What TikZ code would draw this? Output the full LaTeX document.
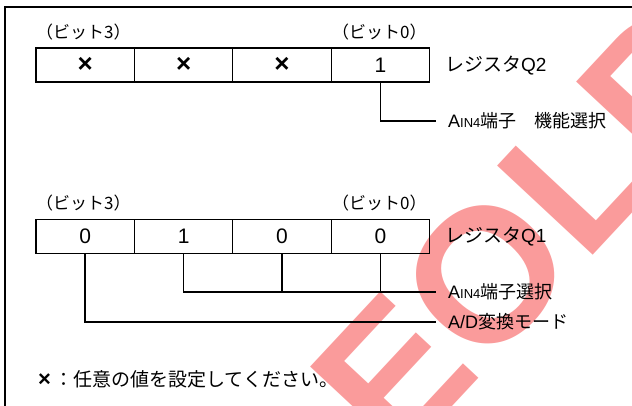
\documentclass[tikz,border=0pt]{standalone}
\usepackage{fontspec}
\setmainfont{Liberation Sans}
\newfontfamily\jp{Noto Sans CJK JP}[BoldFont=Noto Sans CJK JP Bold]
\definecolor{wmpink}{RGB}{250,155,155}
\begin{document}
\begin{tikzpicture}[x=1pt,y=-1pt,
  cell/.style={draw, line width=1.3pt, minimum width=98.4pt, minimum height=34pt, inner sep=0pt, font=\fontsize{21}{21}\selectfont},
  bitlab/.style={anchor=west, inner sep=0pt, font=\jp\fontsize{17}{17}\selectfont},
  reglab/.style={anchor=west, inner sep=0pt, font=\jp\fontsize{19}{19}\selectfont},
  funclab/.style={anchor=west, inner sep=0pt, font=\jp\fontsize{18}{18}\selectfont},
  conn/.style={line width=1.5pt},
  crossmark/.style={font=\bfseries\fontsize{26}{26}\selectfont}]
\useasboundingbox (0,0) rectangle (632,406);
% watermark (behind)
\node[rotate=47, text=wmpink, font=\bfseries\fontsize{190}{190}\selectfont] (wm) at (526,232) {EOLP};
% frame
\draw[line width=2pt] (5,406) -- (5,7) -- (632,7);
% register Q2
\node[bitlab] (t3a) at (36,32) {（ビット3）};
\node[bitlab] (t0a) at (332,32) {（ビット0）};
\node[cell] (a3) at (85.2,65) {\bfseries\fontsize{26}{26}\selectfont ×};
\node[cell] (a2) at (183.6,65) {\bfseries\fontsize{26}{26}\selectfont ×};
\node[cell] (a1) at (282,65) {\bfseries\fontsize{26}{26}\selectfont ×};
\node[cell] (a0) at (380.4,65) {1};
\node[reglab] (rq2) at (445,66) {レジスタ\fontsize{19}{19}\selectfont\rmfamily Q2};
\node[funclab] (f1) at (448,121) {\rmfamily A{\fontsize{13}{13}\selectfont IN4}\jp 端子　機能選択};
\draw[conn] (a0.south) |- ([xshift=-12pt]f1.west);
% register Q1
\node[bitlab] (t3b) at (36,203) {（ビット3）};
\node[bitlab] (t0b) at (332,203) {（ビット0）};
\node[cell] (b3) at (85.2,236.5) {0};
\node[cell] (b2) at (183.6,236.5) {1};
\node[cell] (b1) at (282,236.5) {0};
\node[cell] (b0) at (380.4,236.5) {0};
\node[reglab] (rq1) at (445,237) {レジスタ\fontsize{19}{19}\selectfont\rmfamily Q1};
\node[funclab] (f2) at (448,292) {\rmfamily A{\fontsize{13}{13}\selectfont IN4}\jp 端子選択};
\node[funclab] (f3) at (448,322) {\rmfamily A/D\jp 変換モード};
\coordinate (e2) at ([xshift=-12pt]f2.west);
\coordinate (e3) at ([xshift=-12pt]f3.west);
\draw[conn] (b2.south) |- (e2);
\draw[conn] (b1.south) -- (b1.south |- e2);
\draw[conn] (b0.south) -- (b0.south |- e2);
\draw[conn] (b3.south) |- (e3);
% footnote
\node[anchor=west, inner sep=0pt, font=\jp\fontsize{19}{19}\selectfont] (note) at (38,379) {{\rmfamily\bfseries\fontsize{22}{22}\selectfont ×}\,：任意の値を設定してください。};
\end{tikzpicture}
\end{document}
